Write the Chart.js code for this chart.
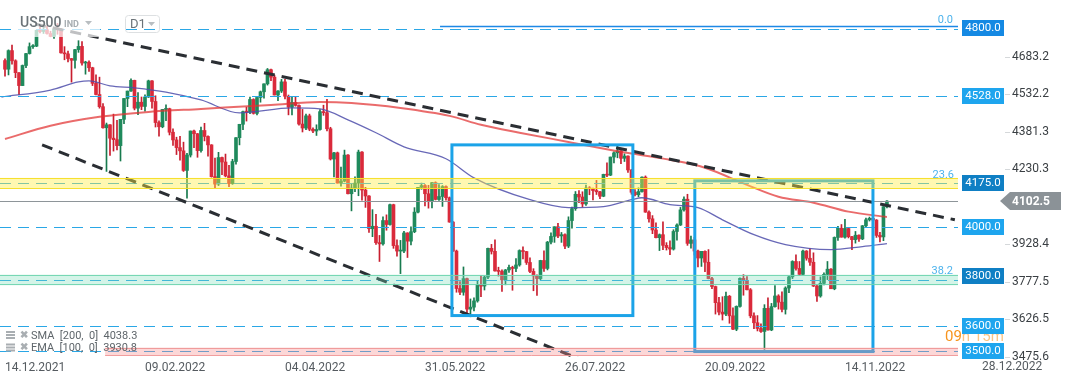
<!DOCTYPE html>
<html>
<head>
<meta charset="utf-8">
<script src="https://cdn.jsdelivr.net/npm/chart.js@4.4.0/dist/chart.umd.min.js"></script>
<style>
  html, body { margin: 0; padding: 0; background: #fff; }
  #wrap { position: relative; width: 1072px; height: 382px; }
</style>
</head>
<body>
<div id="wrap"><canvas id="chart" width="1072" height="382"></canvas></div>
<script>
// x tick labels, one every 40 daily bars
const tickLabels = ['14.12.2021', '09.02.2022', '04.04.2022', '31.05.2022', '26.07.2022', '20.09.2022', '14.11.2022', '28.12.2022'];
const priceTicks = [3475.6, 3626.5, 3777.5, 3928.4, 4230.3, 4381.3, 4532.2, 4683.2];

// US500 D1 candles, 14.12.2021 .. 01.12.2022
const opens = [
  4669,4634,4709,4668,4620,4568,4649,4697,4725,4727,4791,4786,4793,4778,
  4766,4796,4793,4700,4696,4677,4670,4713,4726,4659,4662,4640,4577,4532,4483,4398,4410,4356,4350,4326,4432,
  4516,4546,4589,4477,4501,4484,4522,4587,4504,4419,4402,4472,4475,4380,4349,4318,4305,4226,4288,4385,
  4374,4306,4387,4363,4329,4201,4171,4278,4260,4204,4173,4262,4358,4412,4463,4461,4512,4456,4520,4543,4575,4632,4602,
  4530,4546,4583,4525,4481,4500,4488,4413,4397,4446,4392,4385,4391,4463,4459,4394,4272,4297,4175,4183,4288,
  4132,4155,4175,4300,4147,4123,3991,4001,3935,3930,4024,4008,4088,3923,3901,3901,3974,3941,3979,4058,4158,4165,
  4132,4101,4177,4109,4121,4161,4116,4018,3901,3750,3735,3790,3667,3675,3700,3765,3760,3796,3912,3900,3821,3819,
  3785,3825,3835,3831,3845,3903,3899,3855,3819,3801,3790,3863,3831,3937,3960,3999,3962,3967,3921,4024,4072,
  4130,4119,4091,4155,4152,4145,4140,4122,4210,4207,4280,4297,4305,4275,4284,4228,4138,4128,4141,4199,4058,4031,3986,
  3955,3967,3924,3915,3909,3980,4006,4067,4110,3932,3946,3901,3873,3900,3856,3790,3758,3693,3655,3647,3719,3640,
  3586,3678,3791,3783,3745,3640,3612,3589,3577,3670,3583,3677,3720,3695,3666,3752,3797,3859,3831,3807,3901,
  3872,3856,3760,3720,3771,3807,3828,3749,3956,3993,3957,3992,3959,3947,3965,3950,4003,4027,4033,4026,3964,3958,
  4080
];
const highs = [
  4676,4712,4731,4672,4620,4651,4698,4740,4733,4791,4807,4804,4808,4787,
  4797,4819,4798,4725,4707,4677,4714,4749,4745,4666,4668,4642,4611,4602,4495,4417,4411,4453,4428,4432,4516,
  4546,4595,4590,4540,4522,4531,4590,4588,4527,4426,4472,4490,4477,4394,4360,4363,4340,4295,4385,4389,
  4375,4401,4416,4365,4330,4276,4299,4280,4292,4247,4271,4358,4412,4465,4481,4522,4515,4520,4546,4575,4637,4635,4610,
  4548,4593,4593,4530,4521,4521,4490,4472,4453,4453,4398,4410,4471,4489,4513,4400,4299,4300,4240,4308,4290,
  4170,4200,4308,4302,4158,4125,4068,4049,3964,4039,4047,4090,4090,3946,3944,3981,3975,3999,4076,4158,4175,4169,
  4166,4178,4180,4169,4165,4164,4119,4020,3905,3778,3837,3792,3708,3712,3779,3802,3800,3913,3928,3946,3836,
  3825,3827,3845,3840,3871,3906,3918,3900,3874,3830,3805,3864,3902,3940,3975,3999,4013,3976,3970,4039,4078,
  4141,4145,4140,4167,4161,4155,4186,4142,4211,4257,4280,4301,4325,4306,4293,4285,4230,4149,4156,4200,4204,4063,4044,
  4015,3970,4019,3935,3942,3987,4011,4077,4120,4130,3961,3956,3905,3900,3902,3907,3795,3760,3715,3717,3736,3722,
  3672,3680,3793,3806,3798,3750,3652,3641,3608,3685,3712,3690,3762,3725,3737,3757,3799,3862,3886,3859,3905,
  3903,3911,3894,3765,3797,3813,3859,3830,3958,4001,4008,4029,3995,3960,3980,3966,4004,4034,4038,4035,4028,3977,
  4080,4105
];
const lows = [
  4606,4611,4654,4600,4531,4568,4640,4695,4718,4725,4780,4778,4775,4765,
  4758,4775,4699,4672,4663,4582,4638,4702,4650,4614,4625,4568,4530,4477,4396,4222,4287,4304,4309,4264,4415,
  4483,4544,4470,4451,4471,4465,4520,4477,4401,4364,4398,4427,4369,4327,4290,4267,4222,4114,4280,4318,
  4279,4300,4345,4284,4199,4157,4165,4209,4200,4161,4170,4251,4329,4390,4425,4455,4453,4450,4501,4517,4570,4588,4530,
  4507,4540,4514,4450,4450,4485,4408,4381,4390,4386,4378,4367,4388,4448,4385,4268,4200,4175,4163,4180,4131,
  4063,4140,4124,4106,4077,3976,3959,3928,3859,3925,3985,4005,3912,3880,3810,3895,3875,3926,3975,4055,4150,4083,
  4074,4075,4107,4105,4081,4106,4017,3900,3735,3725,3723,3639,3636,3660,3695,3717,3744,3790,3889,3820,3800,
  3738,3765,3815,3743,3818,3840,3869,3847,3814,3741,3722,3785,3819,3825,3930,3936,3955,3936,3911,3915,3993,
  4065,4096,4079,4085,4128,4107,4129,4112,4120,4201,4205,4256,4277,4253,4262,4218,4130,4123,4120,4138,4057,4017,3971,
  3954,3903,3907,3905,3886,3905,3945,4004,4062,3924,3913,3885,3837,3839,3818,3789,3749,3647,3644,3623,3641,3610,
  3584,3580,3675,3723,3744,3632,3588,3579,3573,3505,3582,3580,3675,3667,3656,3647,3733,3790,3824,3803,3805,
  3864,3843,3758,3698,3715,3765,3786,3749,3745,3944,3957,3953,3954,3907,3933,3940,3947,3998,4022,4020,3956,3938,
  3943,4075
];
const closes = [
  4634,4709,4668,4620,4568,4649,4697,4725,4727,4791,4786,4793,4778,4766,
  4796,4793,4700,4696,4677,4670,4713,4726,4659,4662,4640,4577,4532,4483,4398,4410,4356,4350,4326,4432,4516,
  4546,4589,4477,4501,4484,4522,4587,4504,4419,4402,4472,4475,4380,4349,4318,4305,4226,4288,4385,4374,
  4306,4387,4363,4329,4201,4171,4278,4260,4204,4173,4262,4358,4412,4463,4461,4512,4456,4520,4543,4575,4632,4602,4530,
  4546,4583,4525,4481,4500,4488,4413,4397,4446,4392,4385,4391,4463,4459,4394,4272,4297,4175,4183,4288,4132,
  4155,4175,4300,4147,4123,3991,4001,3935,3930,4024,4008,4088,3923,3901,3901,3974,3941,3979,4058,4158,4165,4132,
  4101,4177,4109,4121,4161,4116,4018,3901,3750,3735,3790,3667,3675,3700,3765,3760,3796,3912,3900,3821,3819,
  3785,3825,3835,3831,3845,3903,3899,3855,3819,3801,3790,3863,3831,3937,3960,3999,3962,3967,3921,4024,4072,
  4130,4119,4091,4155,4152,4145,4140,4122,4210,4207,4280,4297,4305,4275,4284,4228,4138,4128,4141,4199,4058,4031,3986,
  3955,3967,3924,3915,3909,3980,4006,4067,4110,3932,3946,3901,3873,3900,3856,3790,3758,3693,3655,3647,3719,3640,
  3586,3678,3791,3783,3745,3640,3612,3589,3577,3670,3583,3677,3720,3695,3666,3752,3797,3859,3831,3807,3901,
  3872,3856,3760,3720,3771,3807,3828,3749,3956,3993,3957,3992,3959,3947,3965,3950,4003,4027,4033,4026,3964,3958,
  4080,4102.5
];

// moving averages (bar index -> value)
const smaIdx = [0, 13, 27, 41, 56, 76, 90, 99, 113, 127, 136, 147, 161, 176, 190, 200, 212, 221, 231, 241, 252];
const smaVals = [4353, 4406, 4442, 4462, 4474, 4490, 4502, 4498, 4478, 4446, 4410, 4378, 4341, 4301, 4269, 4237, 4168, 4120, 4096, 4060, 4038.3];
const emaIdx = [-1, 13, 21, 24, 30, 37, 46, 56, 67, 82, 90, 98, 106, 114, 126, 134, 150, 161, 171, 179, 182, 190, 198, 205, 214, 223, 236, 245, 252];
const emaVals = [4522, 4550, 4583, 4587, 4567, 4559, 4542, 4510, 4458, 4478, 4474, 4430, 4378, 4321, 4273, 4196, 4108, 4076, 4080, 4108, 4116, 4088, 4076, 4027, 3967, 3927, 3907, 3919, 3930.8];

// drawings: [barIndex, price]
const trendUpper = [[8.6, 4816], [271.4, 4027]];
const trendLower = [[10.6, 4329], [175, 3405]];
const boxes = [[127.7, 4329, 179.4, 3641], [197.1, 4184, 248, 3496]];
const dashedLevels = [4797, 4528, 4175, 4000, 3785, 3600, 3500];
const levelLabels = [4800, 4528, 4175, 4000, 3800, 3600, 3500];
const levelColors = ['#1589e3', '#1ea5ee', '#0f7fc4', '#1ea5ee', '#0f7fc4', '#1ea5ee', '#1ea5ee'];
const lastPrice = 4102.5;

const up = closes.map((c, i) => c >= opens[i]);
const FONT = 'Roboto, "Noto Sans", sans-serif';

const overlay = {
  id: 'overlay',
  afterDatasetsDraw(chart) {
    const { ctx, chartArea: a, scales: { x, y } } = chart;
    ctx.save();
    ctx.beginPath();
    ctx.rect(a.left, a.top, a.right - a.left, a.bottom - a.top);
    ctx.clip();

    // horizontal levels
    ctx.lineWidth = 1;
    ctx.strokeStyle = '#2aa7e6';
    ctx.setLineDash([11, 7]);
    dashedLevels.forEach(v => {
      const py = Math.round(y.getPixelForValue(v)) + 0.5;
      ctx.beginPath(); ctx.moveTo(a.left, py); ctx.lineTo(a.right, py); ctx.stroke();
    });
    ctx.setLineDash([]);
    ctx.strokeStyle = '#1e88e5';
    ctx.lineWidth = 1.5;
    let py = y.getPixelForValue(4806);
    ctx.beginPath(); ctx.moveTo(x.getPixelForValue(124.3), py); ctx.lineTo(a.right, py); ctx.stroke();

    ctx.strokeStyle = '#8e9599';
    ctx.lineWidth = 1;
    py = Math.round(y.getPixelForValue(lastPrice)) + 0.5;
    ctx.beginPath(); ctx.moveTo(a.left, py); ctx.lineTo(a.right, py); ctx.stroke();

    // trend lines
    ctx.strokeStyle = '#2a2e33';
    ctx.lineWidth = 3;
    ctx.setLineDash([11, 7]);
    [trendUpper, trendLower].forEach(t => {
      ctx.beginPath();
      ctx.moveTo(x.getPixelForValue(t[0][0]), y.getPixelForValue(t[0][1]));
      ctx.lineTo(x.getPixelForValue(t[1][0]), y.getPixelForValue(t[1][1]));
      ctx.stroke();
    });
    ctx.setLineDash([]);

    // boxes
    ctx.strokeStyle = '#1ba3e8';
    ctx.lineWidth = 3;
    boxes.forEach(b => {
      const x0 = x.getPixelForValue(b[0]), y0 = y.getPixelForValue(b[1]);
      const x1 = x.getPixelForValue(b[2]), y1 = y.getPixelForValue(b[3]);
      ctx.strokeRect(x0, y0, x1 - x0, y1 - y0);
    });

    // zones
    const zone = (lo, hi, fill, edge, from) => {
      const xs = from == null ? a.left : x.getPixelForValue(from);
      const y0 = y.getPixelForValue(hi), y1 = y.getPixelForValue(lo);
      ctx.fillStyle = fill;
      ctx.fillRect(xs, y0, a.right - xs, y1 - y0);
      ctx.strokeStyle = edge;
      ctx.lineWidth = 1;
      ctx.beginPath();
      ctx.moveTo(xs, Math.round(y0) + 0.5); ctx.lineTo(a.right, Math.round(y0) + 0.5);
      ctx.moveTo(xs, Math.round(y1) - 0.5); ctx.lineTo(a.right, Math.round(y1) - 0.5);
      ctx.stroke();
    };
    zone(4152, 4196, 'rgba(255,238,70,0.42)', 'rgba(245,222,40,0.95)');
    zone(3763, 3806, 'rgba(120,220,185,0.32)', 'rgba(110,212,175,0.9)');
    zone(3480, 3512, 'rgba(245,140,140,0.35)', 'rgba(240,150,150,0.9)', 28.6);

    // translucent backdrop of the symbol header
    ctx.fillStyle = 'rgba(255,255,255,0.7)';
    ctx.fillRect(14, 10, 86, 27);
    ctx.restore();
  },
  afterDraw(chart) {
    const { ctx, chartArea: a, scales: { x, y } } = chart;
    ctx.save();
    ctx.textBaseline = 'middle';

    // fib texts
    ctx.font = '11px ' + FONT;
    ctx.fillStyle = '#4db3ec';
    ctx.textAlign = 'right';
    ctx.fillText('0.0', a.right - 5, 20);
    ctx.fillText('23.6', a.right - 4, y.getPixelForValue(4175) - 8);
    ctx.fillText('38.2', a.right - 5, y.getPixelForValue(3800) - 5);

    // header
    ctx.textAlign = 'left';
    ctx.font = '500 14px ' + FONT;
    ctx.fillStyle = '#6b7378';
    ctx.fillText('US500', 20, 23);
    ctx.font = 'bold 9px ' + FONT;
    ctx.fillStyle = '#a7adb1';
    ctx.fillText('IND', 64, 25);
    ctx.fillStyle = '#b9bec1';
    ctx.beginPath(); ctx.moveTo(85, 21); ctx.lineTo(92, 21); ctx.lineTo(88.5, 25); ctx.fill();
    ctx.strokeStyle = '#dde0e2';
    ctx.lineWidth = 1;
    ctx.beginPath();
    ctx.roundRect(125.5, 15.5, 34, 17, 3);
    ctx.stroke();
    ctx.font = '13px ' + FONT;
    ctx.fillStyle = '#6b7378';
    ctx.fillText('D1', 130, 24.5);
    ctx.fillStyle = '#b9bec1';
    ctx.beginPath(); ctx.moveTo(148, 22); ctx.lineTo(155, 22); ctx.lineTo(151.5, 26); ctx.fill();

    // indicator legend
    const legend = ['SMA  [200,  0]  4038.3', 'EMA  [100,  0]  3930.8'];
    legend.forEach((t, k) => {
      const ly = 336 + k * 12.5;
      ctx.fillStyle = '#a9aeb2';
      ctx.fillRect(6, ly - 5, 9, 2); ctx.fillRect(6, ly - 2, 9, 2); ctx.fillRect(6, ly + 1, 9, 2);
      ctx.font = 'bold 10px ' + FONT;
      ctx.fillText('\u2716', 20, ly - 1);
      ctx.font = '11px ' + FONT;
      ctx.fillStyle = '#5f666b';
      ctx.fillText(t, 31, ly);
    });

    // countdown
    ctx.font = '15px ' + FONT;
    ctx.fillStyle = '#f7941d';
    ctx.fillText('09', 945, 337);
    const w = ctx.measureText('09').width;
    ctx.fillStyle = 'rgba(247,148,29,0.55)';
    ctx.fillText('h 15m', 945 + w, 337);

    // last x label, out in the axis column
    ctx.font = '12px ' + FONT;
    ctx.fillStyle = '#555b60';
    ctx.fillText(tickLabels[7], 982, 367);

    // axis tick marks
    ctx.strokeStyle = '#d5d8da';
    priceTicks.forEach(v => {
      const ty = Math.round(y.getPixelForValue(v)) + 0.5;
      ctx.beginPath(); ctx.moveTo(1005, ty); ctx.lineTo(1010, ty); ctx.stroke();
    });

    // level labels
    ctx.font = '11.5px ' + FONT;
    ctx.textAlign = 'center';
    levelLabels.forEach((v, k) => {
      const cy = Math.round(y.getPixelForValue(v));
      ctx.fillStyle = levelColors[k];
      ctx.fillRect(962, cy - 8, 42, 16);
      ctx.fillStyle = '#fff';
      ctx.fillText(v.toFixed(1), 983, cy + 0.5);
    });

    // last price marker
    const cy = Math.round(y.getPixelForValue(lastPrice));
    ctx.fillStyle = '#8b9297';
    ctx.beginPath();
    ctx.moveTo(1000, cy); ctx.lineTo(1010, cy - 9); ctx.lineTo(1061, cy - 9);
    ctx.lineTo(1061, cy + 9); ctx.lineTo(1010, cy + 9); ctx.closePath(); ctx.fill();
    ctx.fillStyle = '#fff';
    ctx.font = 'bold 12px ' + FONT;
    ctx.fillText(lastPrice.toFixed(1), 1031, cy + 0.5);
    ctx.restore();
  }
};

new Chart('chart', {
  type: 'bar',
  data: {
    datasets: [
      {
        type: 'line',
        data: smaIdx.map((v, k) => ({ x: v, y: smaVals[k] })),
        borderColor: 'rgba(226,50,50,0.72)',
        borderWidth: 2,
        pointRadius: 0,
        cubicInterpolationMode: 'monotone',
        order: 0,
      },
      {
        type: 'line',
        data: emaIdx.map((v, k) => ({ x: v, y: emaVals[k] })),
        borderColor: 'rgba(78,78,170,0.85)',
        borderWidth: 1.3,
        pointRadius: 0,
        cubicInterpolationMode: 'monotone',
        order: 0,
      },
      {
        data: closes.map((c, i) => ({ x: i, y: [opens[i], c] })),
        backgroundColor: up.map(u => (u ? '#1f8a5c' : '#da2a3b')),
        barThickness: 3,
        minBarLength: 1,
        grouped: false,
        order: 1,
      },
      {
        data: closes.map((c, i) => ({ x: i, y: [lows[i], highs[i]] })),
        backgroundColor: up.map(u => (u ? '#177a4e' : '#c81e2f')),
        barThickness: 1,
        grouped: false,
        order: 2,
      },
    ],
  },
  options: {
    responsive: false,
    animation: false,
    devicePixelRatio: 1,
    layout: { padding: 0 },
    plugins: { legend: { display: false }, tooltip: { enabled: false } },
    scales: {
      x: {
        type: 'linear',
        min: -1.43,
        max: 272.3,
        offset: false,
        grid: { display: false, drawTicks: false },
        border: { display: false },
        afterBuildTicks: s => { s.ticks = [0, 40, 80, 120, 160, 200, 240].map(v => ({ value: v })); },
        ticks: {
          callback: v => tickLabels[v / 40],
          align: 'start',
          maxRotation: 0,
          autoSkip: false,
          padding: 4,
          color: '#555b60',
          font: { size: 12, family: FONT },
        },
        afterFit: s => { s.height = 25; s.paddingLeft = 0; s.paddingRight = 0; },
      },
      y: {
        type: 'linear',
        position: 'right',
        min: 3474,
        max: 4913,
        grid: { display: false, drawTicks: true, tickLength: 54 },
        border: { display: false },
        afterBuildTicks: s => { s.ticks = priceTicks.map(v => ({ value: v })); },
        ticks: {
          callback: v => v.toFixed(1),
          padding: 0,
          color: '#3a3f43',
          font: { size: 12, family: FONT },
        },
        afterFit: s => { s.width = 114; s.paddingTop = 0; s.paddingBottom = 0; },
      },
    },
  },
  plugins: [overlay],
});
</script>
</body>
</html>
